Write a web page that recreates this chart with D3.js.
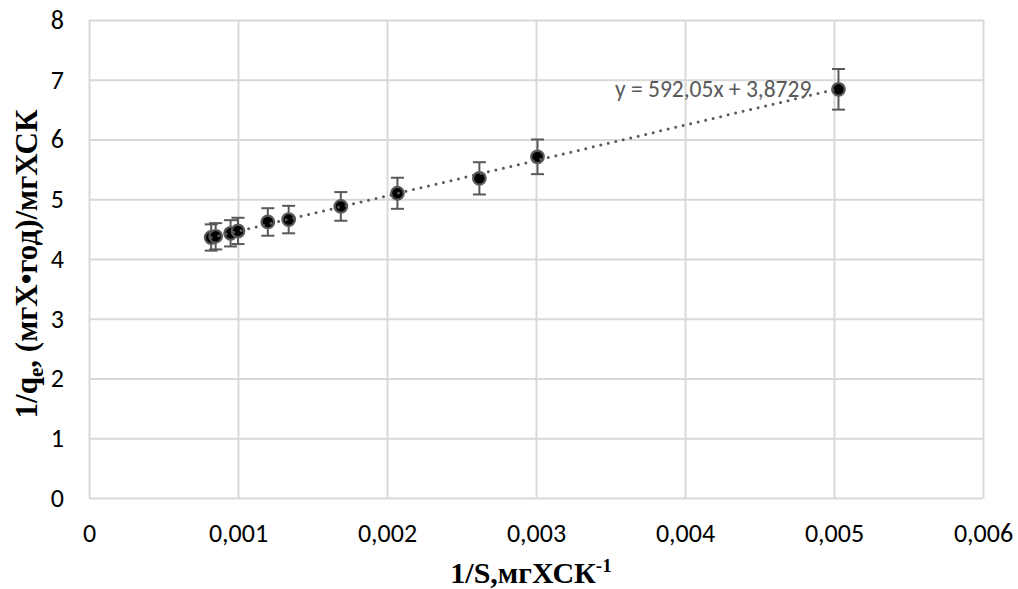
<!DOCTYPE html>
<html>
<head>
<meta charset="utf-8">
<script src="https://cdn.jsdelivr.net/npm/d3@7"></script>
<style>
  html, body { margin: 0; padding: 0; background: #fff; }
  svg { display: block; }
</style>
</head>
<body>
<svg id="chart" width="1018" height="589"></svg>
<script>
// Reciprocal adsorption data: 1/S (x) against 1/qe (y), with error bar half-widths
const invS   = [0.00082, 0.00085, 0.00095, 0.00100, 0.00120, 0.00134, 0.00169, 0.00207, 0.00262, 0.00301, 0.00503];
const invQe  = [4.36, 4.38, 4.43, 4.47, 4.62, 4.66, 4.88, 5.10, 5.35, 5.71, 6.84];
const errQe  = [0.22, 0.22, 0.22, 0.22, 0.23, 0.23, 0.24, 0.26, 0.27, 0.29, 0.34];

// Linear trendline coefficients and axis ticks
const slope = 592.05;
const intercept = 3.8729;
const trendLabel = "y = 592,05x + 3,8729";
const xTicks = [0, 0.001, 0.002, 0.003, 0.004, 0.005, 0.006];
const xTickLabels = ["0", "0,001", "0,002", "0,003", "0,004", "0,005", "0,006"];
const yTicks = [0, 1, 2, 3, 4, 5, 6, 7, 8];

const svg = d3.select("#chart");
const m = { left: 89, right: 983, top: 20, bottom: 498 };

const x = d3.scaleLinear().domain([0, 0.006]).range([m.left, m.right]);
const y = d3.scaleLinear().domain([0, 8]).range([m.bottom, m.top]);

const tickFont = "Carlito, Calibri, Lato, 'Liberation Sans', sans-serif";
const grid = "#d9d9d9";

// Gridlines
svg.append("g")
  .attr("transform", `translate(0,${m.bottom})`)
  .call(d3.axisBottom(x).tickValues(xTicks).tickSize(-(m.bottom - m.top)).tickFormat(""))
  .call(g => g.select(".domain").remove())
  .call(g => g.selectAll("line").attr("stroke", grid).attr("stroke-width", 2));

svg.append("g")
  .attr("transform", `translate(${m.left},0)`)
  .call(d3.axisLeft(y).tickValues(yTicks).tickSize(-(m.right - m.left)).tickFormat(""))
  .call(g => g.select(".domain").remove())
  .call(g => g.selectAll("line").attr("stroke", grid).attr("stroke-width", 2));

// Tick labels
svg.append("g")
  .attr("transform", `translate(0,${m.bottom})`)
  .call(d3.axisBottom(x).tickValues(xTicks).tickSize(0).tickPadding(26)
    .tickFormat((d, i) => xTickLabels[i]))
  .call(g => g.select(".domain").remove())
  .call(g => g.selectAll("text").attr("font-family", tickFont).attr("font-size", 26).attr("fill", "#000"));

svg.append("g")
  .attr("transform", `translate(${m.left},0)`)
  .call(d3.axisLeft(y).tickValues(yTicks).tickSize(0).tickPadding(25).tickFormat(d3.format("d")))
  .call(g => g.select(".domain").remove())
  .call(g => g.selectAll("text").attr("font-family", tickFont).attr("font-size", 26).attr("fill", "#000"));

// Error bars
const eb = svg.append("g").attr("stroke", "#595959").attr("stroke-width", 2);
invS.forEach((xv, i) => {
  const cx = x(xv), top = y(invQe[i] + errQe[i]), bot = y(invQe[i] - errQe[i]);
  eb.append("line").attr("x1", cx).attr("x2", cx).attr("y1", top).attr("y2", bot);
  eb.append("line").attr("x1", cx - 6.5).attr("x2", cx + 6.5).attr("y1", top).attr("y2", top);
  eb.append("line").attr("x1", cx - 6.5).attr("x2", cx + 6.5).attr("y1", bot).attr("y2", bot);
});

// Markers
svg.append("g").selectAll("circle")
  .data(invS.map((d, i) => [d, invQe[i]]))
  .join("circle")
  .attr("cx", d => x(d[0]))
  .attr("cy", d => y(d[1]))
  .attr("r", 6.3)
  .attr("fill", "#000")
  .attr("stroke", "#595959")
  .attr("stroke-width", 2.2);

// Dotted linear trendline over the data range
const xMin = d3.min(invS), xMax = d3.max(invS);
svg.append("line")
  .attr("x1", x(xMin)).attr("y1", y(slope * xMin + intercept))
  .attr("x2", x(xMax)).attr("y2", y(slope * xMax + intercept))
  .attr("stroke", "#595959")
  .attr("stroke-width", 3)
  .attr("stroke-linecap", "round")
  .attr("stroke-dasharray", "0 7.7");

// Trendline equation
svg.append("text")
  .attr("x", 615).attr("y", 97)
  .attr("font-family", tickFont)
  .attr("font-size", 23.5)
  .attr("fill", "#595959")
  .text(trendLabel);

// Axis titles
const titleFont = "'Liberation Serif', 'Times New Roman', serif";
const xt = svg.append("text")
  .attr("x", 531).attr("y", 583)
  .attr("text-anchor", "middle")
  .attr("font-family", titleFont)
  .attr("font-weight", "bold")
  .attr("font-size", 30)
  .attr("fill", "#000");
xt.append("tspan").text("1/S,мгХСК");
xt.append("tspan").attr("font-size", 19).attr("dy", -11).text("-1");

const yt = svg.append("text")
  .attr("transform", "translate(37,264) rotate(-90)")
  .attr("text-anchor", "middle")
  .attr("font-family", titleFont)
  .attr("font-weight", "bold")
  .attr("font-size", 31)
  .attr("fill", "#000");
yt.append("tspan").text("1/q");
yt.append("tspan").attr("font-size", 21).attr("dy", 6).text("e");
yt.append("tspan").attr("dy", -6).text(", (мгХ•год)/мгХСК");
</script>
</body>
</html>
